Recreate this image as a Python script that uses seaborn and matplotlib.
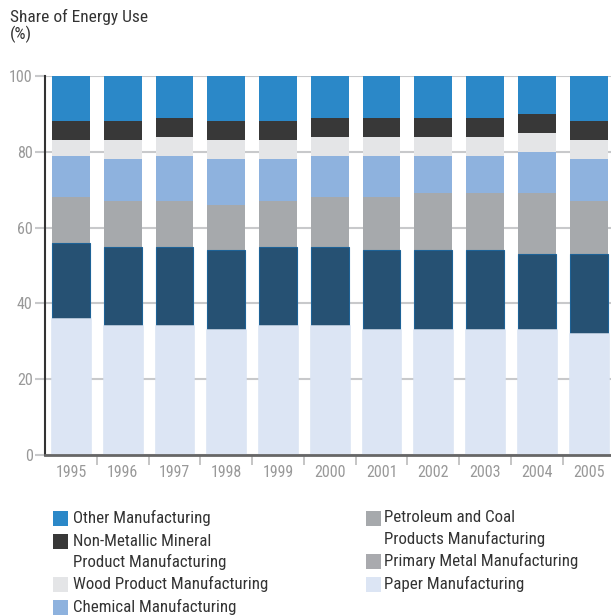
import matplotlib
matplotlib.use("Agg")
import matplotlib.pyplot as plt
import seaborn as sns
import numpy as np
import pandas as pd
from matplotlib.patches import Rectangle

years = ["1995", "1996", "1997", "1998", "1999", "2000", "2001", "2002", "2003", "2004", "2005"]

# segment values (%), bottom to top
paper = [36, 34, 34, 33, 34, 34, 33, 33, 33, 33, 32]
primary_metal = [20, 21, 21, 21, 21, 21, 21, 21, 21, 20, 21]
petroleum_coal = [12, 12, 12, 12, 12, 13, 14, 15, 15, 16, 14]
chemical = [11, 11, 12, 12, 11, 11, 11, 10, 10, 11, 11]
wood = [4, 5, 5, 5, 5, 5, 5, 5, 5, 5, 5]
non_metallic = [5, 5, 5, 5, 5, 5, 5, 5, 5, 5, 5]
other = [12, 12, 11, 12, 12, 11, 11, 11, 11, 10, 12]

series_names = ["Paper Manufacturing", "Primary Metal Manufacturing",
                "Petroleum and Coal\nProducts Manufacturing", "Chemical Manufacturing",
                "Wood Product Manufacturing", "Non-Metallic Mineral\nProduct Manufacturing",
                "Other Manufacturing"]
series_values = [paper, primary_metal, petroleum_coal, chemical, wood, non_metallic, other]
bar_colors = ["#dce5f4", "#265173", "#a6a9ac", "#8eb2de", "#e4e5e7", "#383838", "#2b88c8"]
legend_colors = ["#dce5f4", "#a9aaae", "#a6a9ac", "#8eb2de", "#e4e5e7", "#383838", "#2b88c8"]

sns.set_style("white")
plt.rcParams["font.family"] = ["Roboto Condensed", "DejaVu Sans"]
plt.rcParams["font.stretch"] = "condensed"

W, H = 611, 615
fig = plt.figure(figsize=(W / 100, H / 100), dpi=100)
ax = fig.add_axes([45 / W, (H - 455) / H, 566 / W, 379 / H])

cum = np.cumsum(np.array(series_values), axis=0)
df = pd.DataFrame({"year": years})
for i in range(len(series_names) - 1, -1, -1):
    df["v"] = cum[i]
    if i == 1:
        edge, lw = "#1e6296", 0.8
    elif i == 0:
        edge, lw = bar_colors[0], 1.8
    else:
        edge, lw = bar_colors[i], 0
    sns.barplot(data=df, x="year", y="v", color=bar_colors[i], width=0.73,
                order=years, ax=ax, saturation=1, edgecolor=edge, linewidth=lw, zorder=2)

ax.set_xlim(-0.5, 10.43)
ax.set_ylim(0, 100)
ax.set_yticks([0, 20, 40, 60, 80, 100])
ax.yaxis.grid(True, color="#c8c9cb", linewidth=1.5, zorder=0)
ax.set_axisbelow(True)
ax.set_xlabel("")
ax.set_ylabel("")

for s in ["top", "right"]:
    ax.spines[s].set_visible(False)
ax.spines["left"].set_color("#333333")
ax.spines["left"].set_linewidth(1.5)
ax.spines["bottom"].set_color("#666666")
ax.spines["bottom"].set_linewidth(2)
ax.spines["left"].set_zorder(3)
ax.spines["bottom"].set_zorder(3)

ax.tick_params(axis="y", which="major", length=7, width=1.5, color="#c8c9cb",
               labelcolor="#999999", labelsize=11.5, pad=2, left=True)
ax.tick_params(axis="x", which="major", length=0, labelcolor="#999999", labelsize=11.5, pad=7)
ax.set_xticks(np.arange(0.5, 10.5, 1), minor=True)
ax.tick_params(axis="x", which="minor", length=7, width=1.2, color="#bbbbbb", bottom=True)

fig.text(10 / W, 1 - 9 / H, "Share of Energy Use\n(%)", ha="left", va="top",
         fontsize=12.5, color="#333333", linespacing=1.05)

# legend
left_items = [6, 5, 4, 3]
right_items = [2, 1, 0]
left_rows = [518, 541, 584, 607]
right_rows = [518, 561, 584]

def draw_item(idx, xs, xt, ytop_line):
    lines = series_names[idx].split("\n")
    fig.add_artist(Rectangle((xs / W, 1 - (ytop_line + 7.5) / H), 15 / W, 15 / H,
                             transform=fig.transFigure, facecolor=legend_colors[idx],
                             edgecolor="none"))
    for k, line in enumerate(lines):
        fig.text(xt / W, 1 - (ytop_line + k * 20.5) / H, line, ha="left", va="center",
                 fontsize=12.2, color="#333333")

for idx, y in zip(left_items, left_rows):
    draw_item(idx, 53, 73, y)
for idx, y in zip(right_items, right_rows):
    draw_item(idx, 366, 384, y)

fig.savefig("out.png", dpi=100)
